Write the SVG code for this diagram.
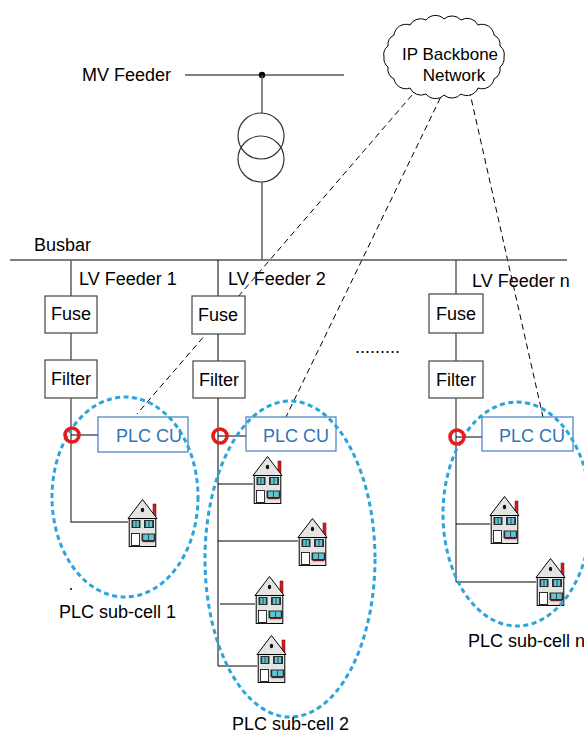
<svg xmlns="http://www.w3.org/2000/svg" width="584" height="736" viewBox="0 0 584 736">
  <style>
    text { font-family: "Liberation Sans", Arial, sans-serif; font-size: 18px; fill: #000; }
    .cloudtxt { font-size: 17px; text-anchor: middle; }
    .mid { text-anchor: middle; }
    .wire { stroke: #555; stroke-width: 1.4; fill: none; }
    .thin { stroke: #000; stroke-width: 1; fill: none; }
    .box { fill: #fff; stroke: #444; stroke-width: 1.2; }
    .cu { fill: #fff; stroke: #3f7fc4; stroke-width: 1.2; }
    .cutxt { fill: #2e74b8; }
    .link { stroke: #000; stroke-width: 1; stroke-dasharray: 6 4; fill: none; }
    .cell { fill: none; stroke: #2aa4dc; stroke-width: 3; stroke-dasharray: 5 3.5; }
    .tap { fill: none; stroke: #e41c1c; stroke-width: 3.6; }
  </style>
  <defs>
    <g id="house">
      <rect x="25" y="5" width="3" height="13" fill="#d42020" stroke="#600" stroke-width="0.5"/>
      <polygon points="0,19.5 14.5,0.5 29,19.5" fill="#e4e4e4" stroke="#000" stroke-width="1"/>
      <ellipse cx="14.5" cy="11" rx="1.7" ry="2.2" fill="#111"/>
      <rect x="1.2" y="19.5" width="26.6" height="28" fill="#e4e4e4" stroke="#000" stroke-width="1"/>
      <rect x="3.5" y="21" width="9" height="8" fill="#2b2b2b"/>
      <rect x="5.2" y="22" width="5.6" height="6" fill="#5cc6d6"/>
      <line x1="8" y1="22" x2="8" y2="28" stroke="#2b2b2b" stroke-width="0.8"/>
      <rect x="16" y="21" width="10" height="8" fill="#2b2b2b"/>
      <rect x="17.8" y="22" width="6.4" height="6" fill="#5cc6d6"/>
      <line x1="21" y1="22" x2="21" y2="28" stroke="#2b2b2b" stroke-width="0.8"/>
      <rect x="3.5" y="34.5" width="8" height="13" fill="#fff" stroke="#000" stroke-width="0.8"/>
      <rect x="3.5" y="46" width="8" height="1.8" fill="#222"/>
      <rect x="13.5" y="34.5" width="14" height="7.5" fill="#2b2b2b"/>
      <rect x="15.2" y="35.5" width="10.6" height="5.5" fill="#5cc6d6"/>
      <line x1="20.5" y1="35.5" x2="20.5" y2="41" stroke="#2b2b2b" stroke-width="0.8"/>
      <rect x="14.5" y="42" width="12" height="1.2" fill="#7a1a1a"/>
    </g>
  </defs>

  <rect width="584" height="736" fill="#fff"/>

  <!-- communication links from the backbone to each concentrator -->
  <g id="connectors">
    <line class="link" x1="425" y1="80" x2="137" y2="414"/>
    <line class="link" x1="449" y1="80" x2="286" y2="417"/>
    <line class="link" x1="467" y1="80" x2="543" y2="417"/>
  </g>

  <g id="backbone">
    <path d="M 504 57 A 11 11 0 0 1 500 67 A 11 11 0 0 1 494 79 A 12 12 0 0 1 478 88 A 12 12 0 0 1 461 94 A 12 12 0 0 1 444 95 A 12 12 0 0 1 426 94 A 12 12 0 0 1 410 88 A 12 12 0 0 1 394 79 A 11 11 0 0 1 388 67 A 11 11 0 0 1 384 57 A 11 11 0 0 1 388 46 A 11 11 0 0 1 394 35 A 12 12 0 0 1 410 25 A 12 12 0 0 1 426 20 A 12 12 0 0 1 444 19 A 12 12 0 0 1 461 20 A 12 12 0 0 1 478 25 A 12 12 0 0 1 494 35 A 11 11 0 0 1 500 46 A 11 11 0 0 1 504 57 Z" fill="#fff" stroke="#000" stroke-width="1"/>
    <text class="cloudtxt" x="450" y="60">IP Backbone</text>
    <text class="cloudtxt" x="454" y="81">Network</text>
  </g>

  <g id="mv-feeder">
    <text x="82" y="81">MV Feeder</text>
    <line class="thin" x1="185" y1="75" x2="344" y2="75"/>
    <circle cx="262" cy="75" r="3.2" fill="#000"/>
  </g>

  <g id="transformer">
    <line class="wire" x1="262" y1="75" x2="262" y2="113"/>
    <circle cx="261" cy="136" r="23" fill="none" stroke="#333" stroke-width="1.2"/>
    <circle cx="261" cy="159" r="23" fill="none" stroke="#333" stroke-width="1.2"/>
    <line class="wire" x1="262" y1="182" x2="262" y2="260"/>
  </g>

  <g id="busbar">
    <text x="34" y="251">Busbar</text>
    <line class="wire" x1="10" y1="260" x2="567" y2="260"/>
  </g>

  <g id="feeder-1">
    <text x="79" y="285">LV Feeder 1</text>
    <line class="wire" x1="71" y1="260" x2="71" y2="296"/>
    <rect class="box" x="45" y="296" width="52" height="37"/>
    <text class="mid" x="71" y="320">Fuse</text>
    <line class="wire" x1="71" y1="333" x2="71" y2="360"/>
    <rect class="box" x="45" y="360" width="52" height="38"/>
    <text class="mid" x="71" y="385">Filter</text>
    <polyline class="wire" points="71,398 71,522 128,522"/>
    <line class="thin" x1="71" y1="435" x2="98" y2="435"/>
    <circle cx="71" cy="589" r="1" fill="#000"/>
  </g>

  <g id="feeder-2">
    <text x="228" y="285">LV Feeder 2</text>
    <line class="thin" x1="218" y1="260" x2="218" y2="296"/>
    <rect class="box" x="192" y="296" width="53" height="38"/>
    <text class="mid" x="218" y="321">Fuse</text>
    <line class="thin" x1="218" y1="334" x2="218" y2="361"/>
    <rect class="box" x="193" y="361" width="52" height="37"/>
    <text class="mid" x="219" y="386">Filter</text>
    <line class="thin" x1="218" y1="398" x2="218" y2="666"/>
    <line class="thin" x1="218" y1="436" x2="246" y2="436"/>
    <line class="thin" x1="218" y1="484" x2="253" y2="484"/>
    <line class="thin" x1="218" y1="541" x2="298" y2="541"/>
    <line class="thin" x1="220" y1="604" x2="255" y2="604"/>
    <line class="thin" x1="218" y1="666" x2="257" y2="666"/>
  </g>

  <g id="feeder-n">
    <text x="472" y="287">LV Feeder n</text>
    <line class="wire" x1="456" y1="260" x2="456" y2="294"/>
    <rect class="box" x="429" y="294" width="54" height="39"/>
    <text class="mid" x="456" y="320">Fuse</text>
    <line class="wire" x1="456" y1="333" x2="456" y2="361"/>
    <rect class="box" x="429" y="361" width="54" height="37"/>
    <text class="mid" x="456" y="386">Filter</text>
    <polyline class="wire" points="456,398 456,582"/>
    <line class="thin" x1="456" y1="437" x2="482" y2="437"/>
    <line class="thin" x1="456" y1="524" x2="490" y2="524"/>
    <line class="thin" x1="456" y1="582" x2="536" y2="582"/>
  </g>

  <text id="more-feeders" x="355" y="353">.........</text>

  <g id="plc-cu-1">
    <rect class="cu" x="98" y="417" width="90" height="35"/>
    <text class="cutxt" x="116" y="442">PLC CU</text>
  </g>
  <g id="plc-cu-2">
    <rect class="cu" x="246" y="417" width="90" height="34"/>
    <text class="cutxt" x="263" y="442">PLC CU</text>
  </g>
  <g id="plc-cu-n">
    <rect class="cu" x="482" y="417" width="91" height="34"/>
    <text class="cutxt" x="499" y="442">PLC CU</text>
  </g>

  <g id="houses">
    <use href="#house" x="128" y="499"/>
    <use href="#house" x="253" y="456"/>
    <use href="#house" x="298" y="518"/>
    <use href="#house" x="255" y="576"/>
    <use href="#house" x="257" y="635"/>
    <use href="#house" x="490" y="496"/>
    <use href="#house" x="536" y="558"/>
  </g>

  <g id="sub-cell-1">
    <ellipse class="cell" cx="125" cy="497" rx="73" ry="100"/>
    <text x="59" y="618">PLC sub-cell 1</text>
  </g>
  <g id="sub-cell-2">
    <ellipse class="cell" cx="290" cy="559" rx="85" ry="158"/>
    <text x="232" y="730">PLC sub-cell 2</text>
  </g>
  <g id="sub-cell-n">
    <ellipse class="cell" cx="517" cy="514" rx="74" ry="112"/>
    <text x="468" y="647">PLC sub-cell n</text>
  </g>

  <g id="coupling-points">
    <circle class="tap" cx="72" cy="435" r="7"/>
    <circle class="tap" cx="220" cy="436" r="7"/>
    <circle class="tap" cx="457" cy="437" r="7"/>
  </g>
</svg>
